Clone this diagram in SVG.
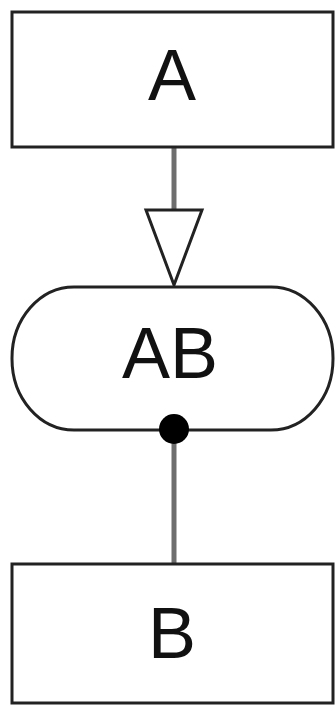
<svg xmlns="http://www.w3.org/2000/svg" width="335" height="707" viewBox="0 0 335 707">
<style>
.box{fill:#fff;stroke:#222;stroke-width:3}
.lbl{font-family:"Liberation Sans",Arial,sans-serif;font-size:72px;fill:#111;text-anchor:middle}
.conn{stroke:#6e6e6e;stroke-width:5;fill:none}
</style>
<rect width="335" height="707" fill="#fff"/>
<g id="connectors">
<line class="conn" x1="174" y1="147" x2="174" y2="210"/>
<polygon points="146,210 202,210 174,285" fill="#fff" stroke="#222" stroke-width="3"/>
<line class="conn" x1="174" y1="430" x2="174" y2="564"/>
</g>
<g id="A">
<rect class="box" x="12" y="12" width="321" height="135"/>
<text class="lbl" x="172" y="100">A</text>
</g>
<g id="AB">
<rect class="box" x="12" y="287" width="321" height="143" rx="62" ry="71"/>
<text class="lbl" x="170" y="378">AB</text>
</g>
<circle cx="174" cy="429" r="15" fill="#000"/>
<g id="B">
<rect class="box" x="12" y="564" width="321" height="139"/>
<text class="lbl" x="172" y="658">B</text>
</g>
</svg>
